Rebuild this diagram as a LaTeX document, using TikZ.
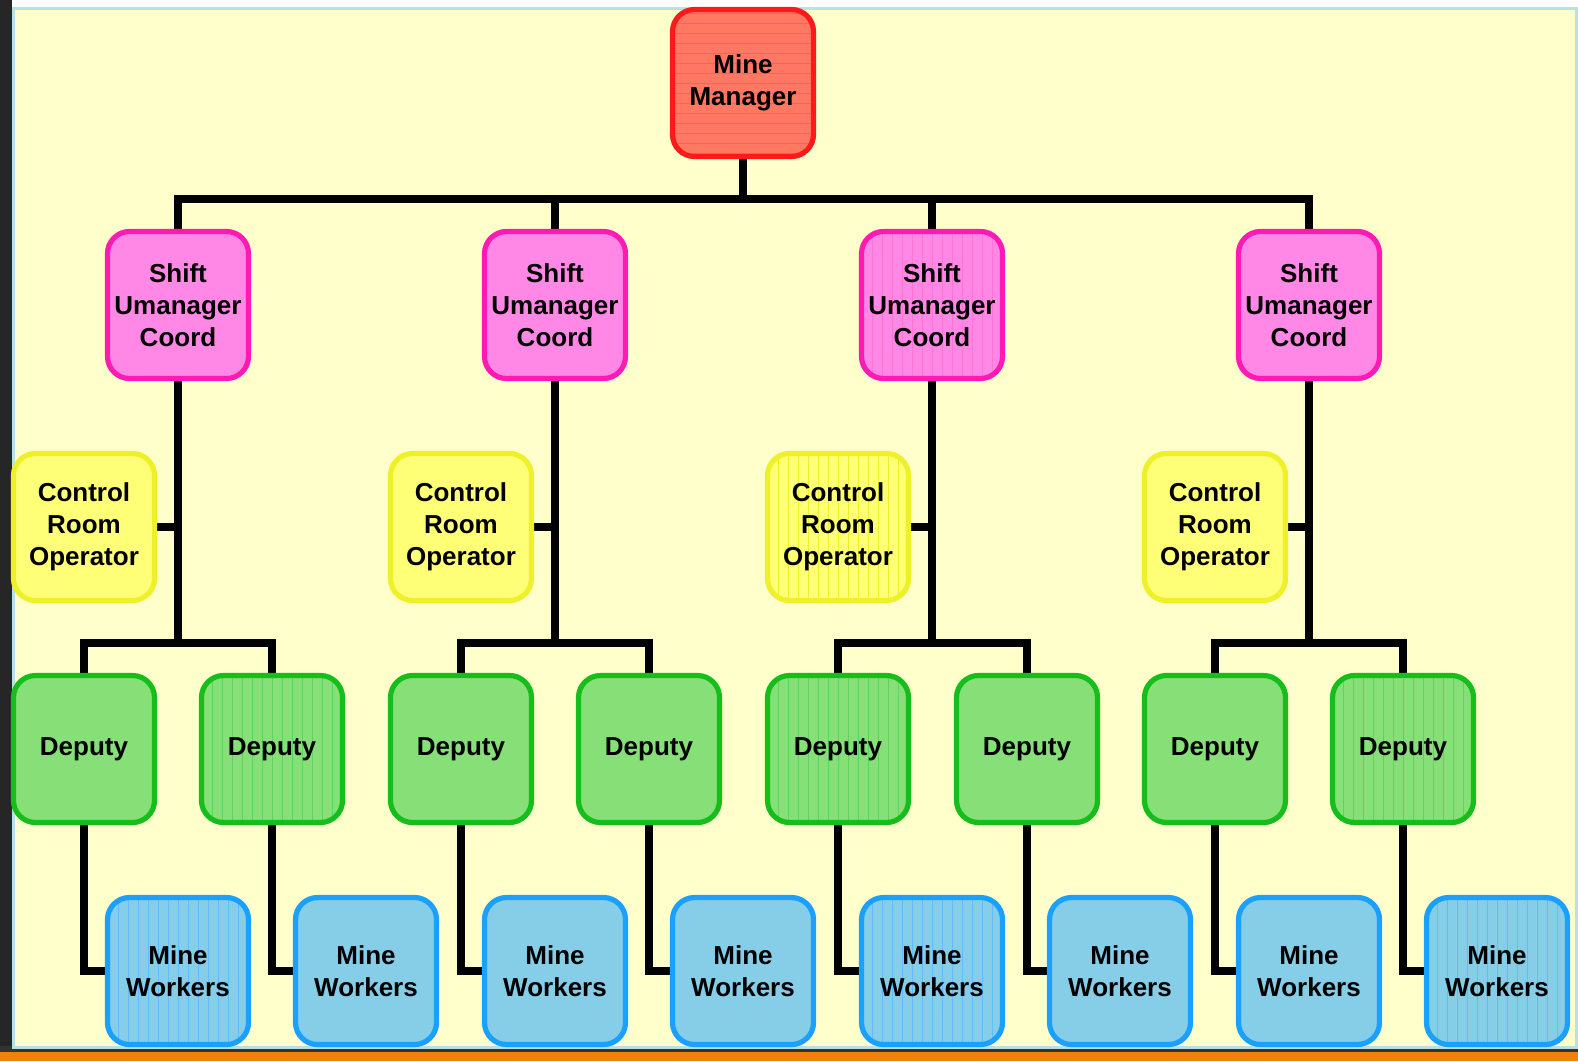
\documentclass[tikz,border=0pt]{standalone}
\usepackage{fontspec}
\setmainfont{Liberation Sans}
\usetikzlibrary{backgrounds}

\definecolor{paper}{HTML}{FFFFCC}
\definecolor{paperline}{HTML}{B8E0E6}
\definecolor{mgrfill}{HTML}{FF7862}
\definecolor{mgrline}{HTML}{FF1A1A}
\definecolor{shiftfill}{HTML}{FF88E6}
\definecolor{shiftline}{HTML}{FF1AB4}
\definecolor{ctrlfill}{HTML}{FFFF77}
\definecolor{ctrlline}{HTML}{EEF02A}
\definecolor{depfill}{HTML}{86E077}
\definecolor{depline}{HTML}{16BE1C}
\definecolor{wrkfill}{HTML}{86CDE8}
\definecolor{wrkline}{HTML}{1AA0FF}

\tikzset{
  box/.style={rounded corners=11pt, line width=2.6pt, minimum width=70.5pt,
    minimum height=73.5pt, inner sep=0pt, align=center,
    font=\bfseries\fontsize{13}{16}\selectfont},
  mgrbox/.style={box, draw=mgrline, fill=mgrfill},
  shiftbox/.style={box, draw=shiftline, fill=shiftfill},
  ctrlbox/.style={box, draw=ctrlline, fill=ctrlfill},
  depbox/.style={box, draw=depline, fill=depfill},
  wrkbox/.style={box, draw=wrkline, fill=wrkfill},
  vstripes/.style={path picture={
    \foreach \i in {-7,...,7}
      \draw[#1, line width=0.4pt] ([xshift=\i*5pt]path picture bounding box.north)
        -- ([xshift=\i*5pt]path picture bounding box.south);}},
  hstripes/.style={path picture={
    \foreach \i in {-7,...,7}
      \draw[#1, line width=0.4pt] ([yshift=\i*5pt]path picture bounding box.west)
        -- ([yshift=\i*5pt]path picture bounding box.east);}},
  conn/.style={line width=4pt, line join=miter}
}

\begin{document}
\begin{tikzpicture}[x=0.5pt,y=0.5pt,yscale=-1,xscale=1]
\useasboundingbox (0,0) rectangle (1578,1061);

%Mine Manager
\node[mgrbox, hstripes=mgrline!70] (mgr) at (743,83) {Mine\\Manager};

%Shift coordinators
\node[shiftbox] (s1) at (178,305) {Shift\\Umanager\\Coord};
\node[shiftbox] (s2) at (555,305) {Shift\\Umanager\\Coord};
\node[shiftbox, vstripes=shiftline!60] (s3) at (932,305) {Shift\\Umanager\\Coord};
\node[shiftbox] (s4) at (1309,305) {Shift\\Umanager\\Coord};

%Control room operators
\node[ctrlbox] (c1) at (84,527) {Control\\Room\\Operator};
\node[ctrlbox] (c2) at (461,527) {Control\\Room\\Operator};
\node[ctrlbox, vstripes=ctrlline] (c3) at (838,527) {Control\\Room\\Operator};
\node[ctrlbox] (c4) at (1215,527) {Control\\Room\\Operator};

%Deputies
\node[depbox] (d1) at (84,749) {Deputy};
\node[depbox, vstripes=depline!70] (d2) at (272,749) {Deputy};
\node[depbox] (d3) at (461,749) {Deputy};
\node[depbox] (d4) at (649,749) {Deputy};
\node[depbox, vstripes=depline!70] (d5) at (838,749) {Deputy};
\node[depbox] (d6) at (1027,749) {Deputy};
\node[depbox] (d7) at (1215,749) {Deputy};
\node[depbox, vstripes=depline!70] (d8) at (1403,749) {Deputy};

%Mine workers
\node[wrkbox, vstripes=wrkline!70] (w1) at (178,971) {Mine\\Workers};
\node[wrkbox] (w2) at (366,971) {Mine\\Workers};
\node[wrkbox] (w3) at (555,971) {Mine\\Workers};
\node[wrkbox] (w4) at (743,971) {Mine\\Workers};
\node[wrkbox, vstripes=wrkline!70] (w5) at (932,971) {Mine\\Workers};
\node[wrkbox] (w6) at (1120,971) {Mine\\Workers};
\node[wrkbox] (w7) at (1309,971) {Mine\\Workers};
\node[wrkbox, vstripes=wrkline!70] (w8) at (1497,971) {Mine\\Workers};

\begin{pgfonlayer}{background}
%Frame
\fill[white] (0,0) rectangle (1578,1061);
\fill[black!85] (0,0) rectangle (12,1061);
\fill[black!80] (0,1046) rectangle (1578,1052);
\fill[orange!80!brown] (0,1052) rectangle (1578,1061);
\draw[paperline, line width=1.5pt, fill=paper] (13,8) rectangle (1576,1047);

%Manager to shifts
\coordinate (top) at (743,199);
\draw[conn] (mgr.south) -- (top);
\draw[conn] (top) -| (s1.north);
\draw[conn] (top) -| (s2.north);
\draw[conn] (top) -| (s3.north);
\draw[conn] (top) -| (s4.north);

%Shifts to deputies
\coordinate (b1) at (178,643);
\coordinate (b2) at (555,643);
\coordinate (b3) at (932,643);
\coordinate (b4) at (1309,643);
\draw[conn] (s1.south) -- (b1);
\draw[conn] (s2.south) -- (b2);
\draw[conn] (s3.south) -- (b3);
\draw[conn] (s4.south) -- (b4);
\draw[conn] (d1.north) |- (b1) -| (d2.north);
\draw[conn] (d3.north) |- (b2) -| (d4.north);
\draw[conn] (d5.north) |- (b3) -| (d6.north);
\draw[conn] (d7.north) |- (b4) -| (d8.north);

%Control rooms
\draw[conn] (c1.east) -- (b1 |- c1.east);
\draw[conn] (c2.east) -- (b2 |- c2.east);
\draw[conn] (c3.east) -- (b3 |- c3.east);
\draw[conn] (c4.east) -- (b4 |- c4.east);

%Deputies to workers
\draw[conn] (d1.south) |- (w1.west);
\draw[conn] (d2.south) |- (w2.west);
\draw[conn] (d3.south) |- (w3.west);
\draw[conn] (d4.south) |- (w4.west);
\draw[conn] (d5.south) |- (w5.west);
\draw[conn] (d6.south) |- (w6.west);
\draw[conn] (d7.south) |- (w7.west);
\draw[conn] (d8.south) |- (w8.west);
\end{pgfonlayer}

\end{tikzpicture}
\end{document}
